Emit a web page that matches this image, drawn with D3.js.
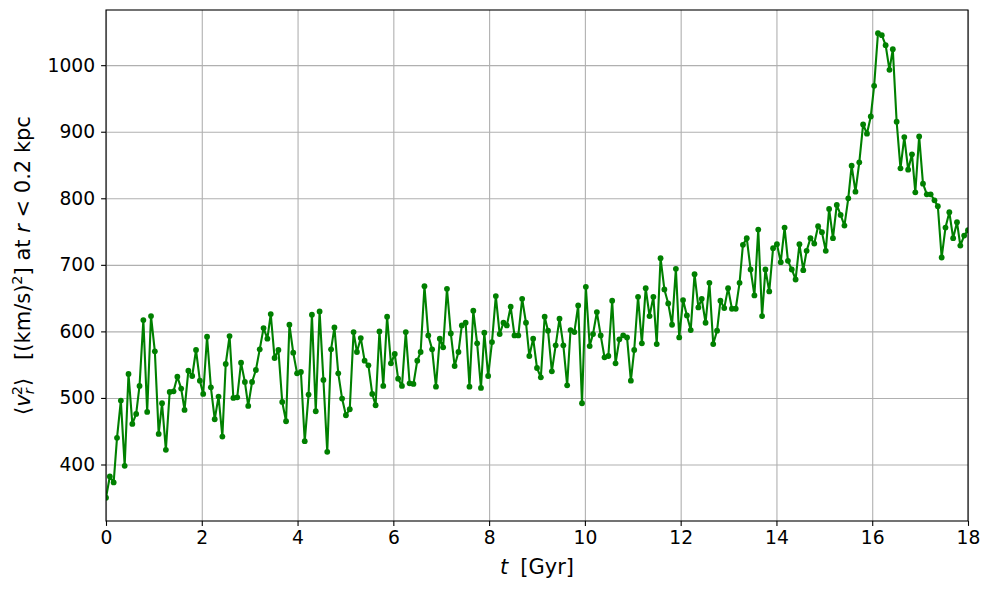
<!DOCTYPE html>
<html>
<head>
<meta charset="utf-8">
<script src="https://cdn.jsdelivr.net/npm/d3@7"></script>
<style>
body { margin: 0; background: #fff; }
text { font-family: "DejaVu Sans", sans-serif; }
</style>
</head>
<body>
<div id="chart"></div>
<script>
/* snapshot times in Gyr */
let time_gyr = [
    0.00, 0.08, 0.16, 0.23, 0.31, 0.39, 0.47, 0.55, 0.63, 0.70,
    0.78, 0.86, 0.94, 1.02, 1.10, 1.17, 1.25, 1.33, 1.41, 1.49,
    1.57, 1.64, 1.72, 1.80, 1.88, 1.96, 2.03, 2.11, 2.19, 2.27,
    2.35, 2.43, 2.50, 2.58, 2.66, 2.74, 2.82, 2.90, 2.97, 3.05,
    3.13, 3.21, 3.29, 3.37, 3.44, 3.52, 3.60, 3.68, 3.76, 3.83,
    3.91, 3.99, 4.07, 4.15, 4.23, 4.30, 4.38, 4.46, 4.54, 4.62,
    4.70, 4.77, 4.85, 4.93, 5.01, 5.09, 5.17, 5.24, 5.32, 5.40,
    5.48, 5.56, 5.63, 5.71, 5.79, 5.87, 5.95, 6.03, 6.10, 6.18,
    6.26, 6.34, 6.42, 6.50, 6.57, 6.65, 6.73, 6.81, 6.89, 6.97,
    7.04, 7.12, 7.20, 7.28, 7.36, 7.43, 7.51, 7.59, 7.67, 7.75,
    7.83, 7.90, 7.98, 8.06, 8.14, 8.22, 8.30, 8.37, 8.45, 8.53,
    8.61, 8.69, 8.77, 8.84, 8.92, 9.00, 9.08, 9.16, 9.23, 9.31,
    9.39, 9.47, 9.55, 9.63, 9.70, 9.78, 9.86, 9.94, 10.02, 10.10,
    10.17, 10.25, 10.33, 10.41, 10.49, 10.57, 10.64, 10.72, 10.80, 10.88,
    10.96, 11.03, 11.11, 11.19, 11.27, 11.35, 11.43, 11.50, 11.58, 11.66,
    11.74, 11.82, 11.90, 11.97, 12.05, 12.13, 12.21, 12.29, 12.37, 12.44,
    12.52, 12.60, 12.68, 12.76, 12.83, 12.91, 12.99, 13.07, 13.15, 13.23,
    13.30, 13.38, 13.46, 13.54, 13.62, 13.70, 13.77, 13.85, 13.93, 14.01,
    14.09, 14.17, 14.24, 14.32, 14.40, 14.48, 14.56, 14.63, 14.71, 14.79,
    14.87, 14.95, 15.03, 15.10, 15.18, 15.26, 15.34, 15.42, 15.50, 15.57,
    15.65, 15.73, 15.81, 15.89, 15.97, 16.04, 16.12, 16.20, 16.28, 16.36,
    16.43, 16.51, 16.59, 16.67, 16.75, 16.83, 16.90, 16.98, 17.06, 17.14,
    17.22, 17.30, 17.37, 17.45, 17.53, 17.61, 17.69, 17.77, 17.84, 17.92,
    18.00
];

/* <v_r^2> in (km/s)^2 inside r < 0.2 kpc */
let vr2_values = [
    350, 382, 373, 440, 496, 398, 536, 461, 476, 518,
    617, 479, 623, 570, 446, 492, 422, 509, 510, 532,
    514, 482, 541, 533, 572, 526, 506, 592, 516, 468,
    502, 442, 551, 593, 500, 501, 553, 524, 488, 524,
    542, 573, 605, 589, 626, 560, 572, 494, 465, 610,
    568, 537, 539, 435, 505, 625, 480, 630, 527, 419,
    573, 606, 537, 499, 474, 483, 599, 569, 590, 556,
    549, 506, 489, 600, 518, 622, 552, 566, 529, 518,
    599, 522, 521, 556, 569, 668, 594, 573, 517, 589,
    576, 664, 597, 548, 569, 609, 613, 517, 631, 582,
    515, 598, 533, 584, 653, 596, 613, 609, 637, 594,
    594, 649, 613, 563, 589, 545, 531, 622, 601, 540,
    579, 619, 579, 519, 602, 599, 639, 492, 667, 578,
    596, 629, 594, 561, 563, 646, 552, 588, 594, 591,
    526, 572, 652, 582, 665, 623, 652, 581, 710, 663,
    642, 610, 694, 591, 647, 624, 602, 686, 636, 649,
    613, 673, 581, 601, 646, 635, 665, 634, 634, 673,
    730, 740, 693, 654, 753, 623, 693, 660, 725, 731,
    704, 756, 706, 693, 678, 731, 692, 721, 740, 732,
    758, 749, 721, 784, 740, 790, 775, 759, 800, 849,
    810, 854, 911, 897, 923, 969, 1048, 1045, 1030, 993,
    1024, 915, 845, 892, 843, 866, 809, 893, 822, 806,
    806, 797, 788, 711, 756, 779, 740, 764, 729, 744,
    752
];

let x_tick_values = [0, 2, 4, 6, 8, 10, 12, 14, 16, 18];
let y_tick_values = [400, 500, 600, 700, 800, 900, 1000];

let width = 990;
let height = 590;
let margin = {left: 106, right: 22, top: 10, bottom: 69};
let plot_w = width - margin.left - margin.right;
let plot_h = height - margin.top - margin.bottom;

let data = time_gyr.map(function(t, i) { return {t: t, v: vr2_values[i]}; });

/* matplotlib style 5% margin on the y data range */
let v_ext = d3.extent(vr2_values);
let v_pad = (v_ext[1] - v_ext[0]) * 0.05;

let x = d3.scaleLinear().domain([0, 18]).range([0, plot_w]);
let y = d3.scaleLinear().domain([v_ext[0] - v_pad, v_ext[1] + v_pad]).range([plot_h, 0]);

let svg = d3.select("#chart").append("svg")
    .attr("width", width).attr("height", height);

svg.append("rect").attr("width", width).attr("height", height).attr("fill", "#fff");

let g = svg.append("g").attr("transform", "translate(" + margin.left + "," + margin.top + ")");

/* grid lines */
g.append("g")
    .attr("transform", "translate(0," + plot_h + ")")
    .call(d3.axisBottom(x).tickValues(x_tick_values).tickSize(-plot_h).tickSizeOuter(0).tickFormat(""))
    .call(function(s) { s.select(".domain").remove(); })
    .selectAll("line").attr("stroke", "#b0b0b0").attr("stroke-width", 1.1);

g.append("g")
    .call(d3.axisLeft(y).tickValues(y_tick_values).tickSize(-plot_w).tickSizeOuter(0).tickFormat(""))
    .call(function(s) { s.select(".domain").remove(); })
    .selectAll("line").attr("stroke", "#b0b0b0").attr("stroke-width", 1.1);

/* the series, clipped to the axes box */
svg.append("defs").append("clipPath").attr("id", "clip")
    .append("rect").attr("width", plot_w).attr("height", plot_h);

let series = g.append("g").attr("clip-path", "url(#clip)");

let line = d3.line().x(function(d) { return x(d.t); }).y(function(d) { return y(d.v); });

series.append("path")
    .datum(data)
    .attr("fill", "none")
    .attr("stroke", "#008000")
    .attr("stroke-width", 2.1)
    .attr("stroke-linejoin", "round")
    .attr("d", line);

series.selectAll("circle")
    .data(data)
    .enter().append("circle")
    .attr("cx", function(d) { return x(d.t); })
    .attr("cy", function(d) { return y(d.v); })
    .attr("r", 2.9)
    .attr("fill", "#008000");

/* axes with ticks and labels */
let x_axis = g.append("g")
    .attr("transform", "translate(0," + plot_h + ")")
    .call(d3.axisBottom(x).tickValues(x_tick_values).tickSize(4.9).tickPadding(4.9).tickSizeOuter(0).tickFormat(d3.format("d")));

let y_axis = g.append("g")
    .call(d3.axisLeft(y).tickValues(y_tick_values).tickSize(4.9).tickPadding(6).tickSizeOuter(0).tickFormat(d3.format("d")));

[x_axis, y_axis].forEach(function(a) {
    a.select(".domain").remove();
    a.selectAll("line").attr("stroke", "#000").attr("stroke-width", 1.1);
    a.selectAll("text")
        .attr("fill", "#000")
        .attr("font-size", 18.7)
        .attr("font-family", "DejaVu Sans, sans-serif");
});

/* frame */
g.append("rect")
    .attr("width", plot_w).attr("height", plot_h)
    .attr("fill", "none").attr("stroke", "#000").attr("stroke-width", 1.1);

/* x label */
let xl = svg.append("text")
    .attr("x", margin.left + plot_w / 2)
    .attr("y", 574)
    .attr("text-anchor", "middle")
    .attr("font-size", 21);
xl.append("tspan").attr("font-style", "italic").text("t");
xl.append("tspan").attr("dx", 12).text("[Gyr]");

/* y label */
let yl = svg.append("text")
    .attr("transform", "translate(30," + (margin.top + plot_h / 2) + ") rotate(-90)")
    .attr("text-anchor", "middle")
    .attr("font-size", 21);
yl.append("tspan").text("\u27E8");
yl.append("tspan").attr("font-style", "italic").text("v");
yl.append("tspan").attr("font-style", "italic").attr("font-size", 14.5).attr("dy", 4).text("r");
yl.append("tspan").attr("font-size", 14.5).attr("dx", -7).attr("dy", -12).text("2");
yl.append("tspan").attr("dy", 8).text("\u27E9");
yl.append("tspan").attr("dx", 18).text("[(km/s)");
yl.append("tspan").attr("font-size", 14.5).attr("dy", -8).text("2");
yl.append("tspan").attr("dy", 8).text("] at ");
yl.append("tspan").attr("font-style", "italic").text("r");
yl.append("tspan").text(" < 0.2 kpc");
</script>
</body>
</html>
